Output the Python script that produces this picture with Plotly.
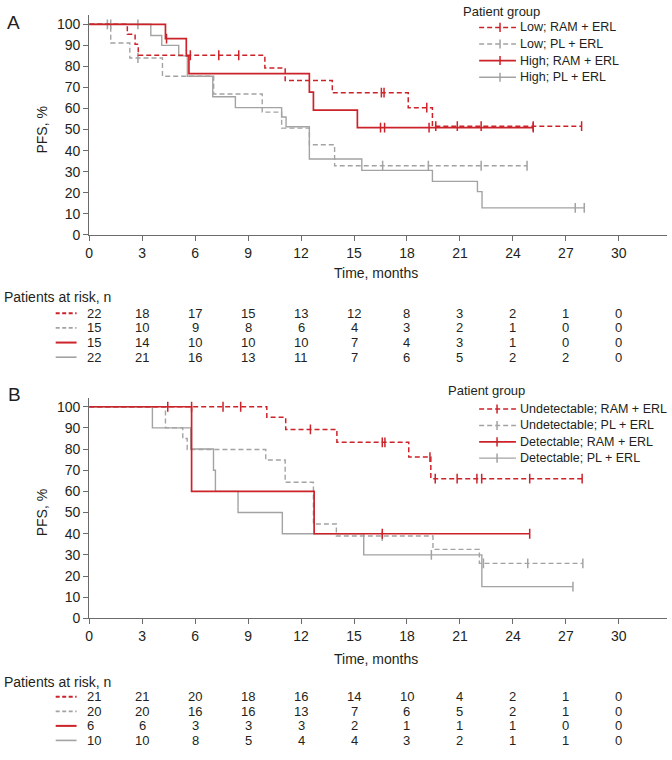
import plotly.graph_objects as go

W, H = 672, 760
FONT = "Liberation Sans, Arial, Helvetica, sans-serif"
TXT = "#231f20"
RED = "#cc2229"
GRAY = "#a3a3a3"
AXC = "#6b6b6b"

month_ticks = [0, 3, 6, 9, 12, 15, 18, 21, 24, 27, 30]
pct_ticks = [0, 10, 20, 30, 40, 50, 60, 70, 80, 90, 100]

# ---------------- Panel A data ----------------
A_names = ["Low; RAM + ERL", "Low; PL + ERL", "High; RAM + ERL", "High; PL + ERL"]
A_low_ram_t = [0, 2.16, 2.6, 2.78, 9.95, 11.1, 13.77, 18.07, 19.44, 27.89]
A_low_ram_s = [100, 95.3, 90.5, 85.3, 79.2, 73.3, 67.5, 60.4, 51.6, 51.6]
A_low_ram_c = [5.73, 7.34, 8.47, 16.55, 16.7, 19.12, 19.63, 20.85, 22.2, 25.15, 27.89]

A_low_pl_t = [0, 1.22, 2.3, 4.15, 7.05, 9.8, 10.9, 12.47, 13.9, 24.8]
A_low_pl_s = [100, 91.1, 84.0, 75.3, 66.9, 58.3, 50.7, 42.8, 32.8, 32.8]
A_low_pl_c = [1.03, 2.76, 16.62, 19.21, 22.2, 24.8]

A_high_ram_t = [0, 4.32, 5.5, 5.65, 12.47, 12.7, 15.19, 25.15]
A_high_ram_s = [100, 93.2, 85.0, 76.6, 67.8, 59.2, 50.9, 50.9]
A_high_ram_c = [4.38, 16.5, 16.73, 19.25, 25.15]

A_high_pl_t = [0, 3.49, 4.11, 5.07, 5.56, 7.0, 8.28, 10.9, 11.15, 12.47, 15.44, 19.44, 21.99, 22.25, 28.04]
A_high_pl_s = [100, 94.7, 90.0, 85.0, 75.3, 65.6, 60.4, 56.0, 51.3, 36.0, 30.6, 25.4, 20.5, 12.8, 12.8]
A_high_pl_c = [1.22, 2.76, 27.53, 28.04]

A_risk_low_ram = [22, 18, 17, 15, 13, 12, 8, 3, 2, 1, 0]
A_risk_low_pl = [15, 10, 9, 8, 6, 4, 3, 2, 1, 0, 0]
A_risk_high_ram = [15, 14, 10, 10, 10, 7, 4, 3, 1, 0, 0]
A_risk_high_pl = [22, 21, 16, 13, 11, 7, 6, 5, 2, 2, 0]

# ---------------- Panel B data ----------------
B_names = ["Undetectable; RAM + ERL", "Undetectable; PL + ERL",
           "Detectable; RAM + ERL", "Detectable; PL + ERL"]
B_und_ram_t = [0, 10.06, 11.13, 14.03, 18.1, 19.35, 27.92]
B_und_ram_s = [100, 95.0, 89.3, 83.2, 76.2, 66.0, 66.0]
B_und_ram_c = [4.45, 5.8, 7.58, 8.58, 12.53, 16.6, 16.75, 19.3, 19.6, 20.84, 21.96, 22.23, 24.95, 27.92]

B_und_pl_t = [0, 4.32, 5.3, 5.55, 10.0, 11.1, 12.7, 14.0, 19.47, 22.1, 27.96]
B_und_pl_s = [100, 90.0, 85.0, 79.8, 74.8, 64.3, 44.6, 38.9, 32.6, 26.0, 26.0]
B_und_pl_c = [16.6, 22.33, 24.84, 27.96]

B_det_ram_t = [0, 5.8, 12.74, 24.95]
B_det_ram_s = [100, 60.0, 40.0, 40.0]
B_det_ram_c = [16.6, 24.95]

B_det_pl_t = [0, 3.58, 5.75, 7.04, 7.15, 8.43, 10.94, 15.55, 22.24, 27.4]
B_det_pl_s = [100, 90.0, 80.0, 70.0, 60.0, 50.0, 40.0, 30.0, 15.0, 15.0]
B_det_pl_c = [19.38, 27.4]

B_risk_und_ram = [21, 21, 20, 18, 16, 14, 10, 4, 2, 1, 0]
B_risk_und_pl = [20, 20, 16, 16, 13, 7, 6, 5, 2, 1, 0]
B_risk_det_ram = [6, 6, 3, 3, 3, 2, 1, 1, 1, 0, 0]
B_risk_det_pl = [10, 10, 8, 5, 4, 4, 3, 2, 1, 1, 0]

# styles: (color, dash, width)
STY = [(RED, "5px,3px", 1.5), (GRAY, "5px,3px", 1.4), (RED, "solid", 1.7), (GRAY, "solid", 1.4)]


def px(x):
    return x / W


def py(y):
    return 1 - y / H


def step_val(ts, ss, c):
    v = ss[0]
    for t, s in zip(ts, ss):
        if t <= c + 1e-9:
            v = s
    return v


fig = go.Figure()

panels = [
    ("x", "y", [(A_low_ram_t, A_low_ram_s, A_low_ram_c), (A_low_pl_t, A_low_pl_s, A_low_pl_c),
                (A_high_ram_t, A_high_ram_s, A_high_ram_c), (A_high_pl_t, A_high_pl_s, A_high_pl_c)]),
    ("x2", "y2", [(B_und_ram_t, B_und_ram_s, B_und_ram_c), (B_und_pl_t, B_und_pl_s, B_und_pl_c),
                  (B_det_ram_t, B_det_ram_s, B_det_ram_c), (B_det_pl_t, B_det_pl_s, B_det_pl_c)]),
]

order = [3, 1, 2, 0]
for xa, ya, curves in panels:
    for i in order:
        ts, ss, cs = curves[i]
        col, dash, lw = STY[i]
        fig.add_trace(go.Scatter(x=ts, y=ss, mode="lines", line=dict(color=col, dash=dash, width=lw, shape="hv"),
                                 xaxis=xa, yaxis=ya, showlegend=False, hoverinfo="skip"))
        fig.add_trace(go.Scatter(x=cs, y=[step_val(ts, ss, c) for c in cs], mode="markers",
                                 marker=dict(symbol="line-ns", size=7, line=dict(color=col, width=1.5)),
                                 xaxis=xa, yaxis=ya, showlegend=False, hoverinfo="skip"))

# ---------------- layout / axes ----------------
X0, X1 = 85.7, 666.5
A_top, A_bot = 15.0, 237.3
B_top, B_bot = 402.5, 625.0

axcommon = dict(showgrid=False, zeroline=False, showline=True, linecolor=AXC, linewidth=1,
                ticks="outside", ticklen=5, tickcolor=AXC, tickwidth=1,
                tickfont=dict(family=FONT, size=14, color=TXT))

layout = dict(
    width=W, height=H, margin=dict(l=0, r=0, t=0, b=0),
    paper_bgcolor="white", plot_bgcolor="white", showlegend=False,
    xaxis=dict(domain=[px(X0), px(X1)], range=[0, 32.7], tickvals=month_ticks, anchor="y", **axcommon),
    yaxis=dict(domain=[py(A_bot), py(A_top)], range=[0, 104.5], tickvals=pct_ticks, anchor="x", **axcommon),
    xaxis2=dict(domain=[px(X0), px(X1)], range=[0, 32.7], tickvals=month_ticks, anchor="y2", **axcommon),
    yaxis2=dict(domain=[py(B_bot), py(B_top)], range=[0, 104], tickvals=pct_ticks, anchor="x2", **axcommon),
)
fig.update_layout(**layout)

ann = []
shapes = []


def text(x, y, s, size=14, xanchor="left", xref="paper", angle=0):
    ann.append(dict(x=x if xref != "paper" else px(x), y=py(y), xref=xref, yref="paper", text=s,
                    showarrow=False, xanchor=xanchor, yanchor="middle", textangle=angle, borderpad=0,
                    font=dict(family=FONT, size=size, color=TXT)))


def seg(x0, y0, x1, y1, col, dash, lw):
    shapes.append(dict(type="line", xref="paper", yref="paper", x0=px(x0), y0=py(y0), x1=px(x1), y1=py(y1),
                       line=dict(color=col, dash=dash, width=lw)))


# panel letters
text(2, 23, "A", size=19)
text(3, 399, "B", size=19)

# axis titles
text(374, 276, "Time, months", xanchor="center")
text(374, 666, "Time, months", xanchor="center")
text(38, (A_top + 10 + A_bot) / 2, "PFS, %", xanchor="center", angle=-90)
text(38, 518, "PFS, %", xanchor="center", angle=-90)

# legends
def legend(title_x, title_y, rows_y, names, tick_x):
    text(title_x, title_y, "Patient group", size=13)
    for i, (yy, nm) in enumerate(zip(rows_y, names)):
        col, dash, lw = STY[i]
        seg(478, yy, 515, yy, col, dash, lw)
        seg(tick_x, yy - 4.6, tick_x, yy + 4.6, col, "solid", 1.5)
        text(518, yy, nm, size=12.5)


legend(461, 12, [27.7, 44.5, 61.2, 78.0], A_names, 499)
legend(446, 395, [413.3, 430.0, 446.6, 463.0], B_names, 496)

# risk tables
RISK_FS = 13


def risk_table(head_y, rows_y, rows, xref):
    text(-1, head_y, "Patients at risk, n", size=14)
    for i, (yy, vals) in enumerate(zip(rows_y, rows)):
        col, dash, lw = STY[i]
        seg(52, yy, 73, yy, col, "4px,2.5px" if dash != "solid" else "solid", 2 if col == RED else 1.6)
        for j, v in enumerate(vals):
            if j == 0:
                text(82, yy, str(v), size=RISK_FS)
            else:
                ann.append(dict(x=month_ticks[j], y=py(yy), xref=xref, yref="paper",
                                text=str(v), showarrow=False, xanchor="center", yanchor="middle", borderpad=0,
                                font=dict(family=FONT, size=RISK_FS, color=TXT)))


risk_table(300.5, [316.6, 331.4, 346.2, 361.0], [A_risk_low_ram, A_risk_low_pl, A_risk_high_ram, A_risk_high_pl], "x")
risk_table(689.5, [704.2, 718.9, 733.6, 748.3], [B_risk_und_ram, B_risk_und_pl, B_risk_det_ram, B_risk_det_pl], "x2")

fig.update_layout(annotations=ann, shapes=shapes)
fig.write_html(
    "out.html",
    config={"displayModeBar": False, "staticPlot": True},
    post_script=("document.documentElement.style.margin='0px';document.documentElement.style.padding='0px';"
                 "document.documentElement.style.overflow='hidden';"
                 "document.body.style.margin='0px';document.body.style.padding='0px';"
                 "document.body.style.overflow='hidden';"),
)
